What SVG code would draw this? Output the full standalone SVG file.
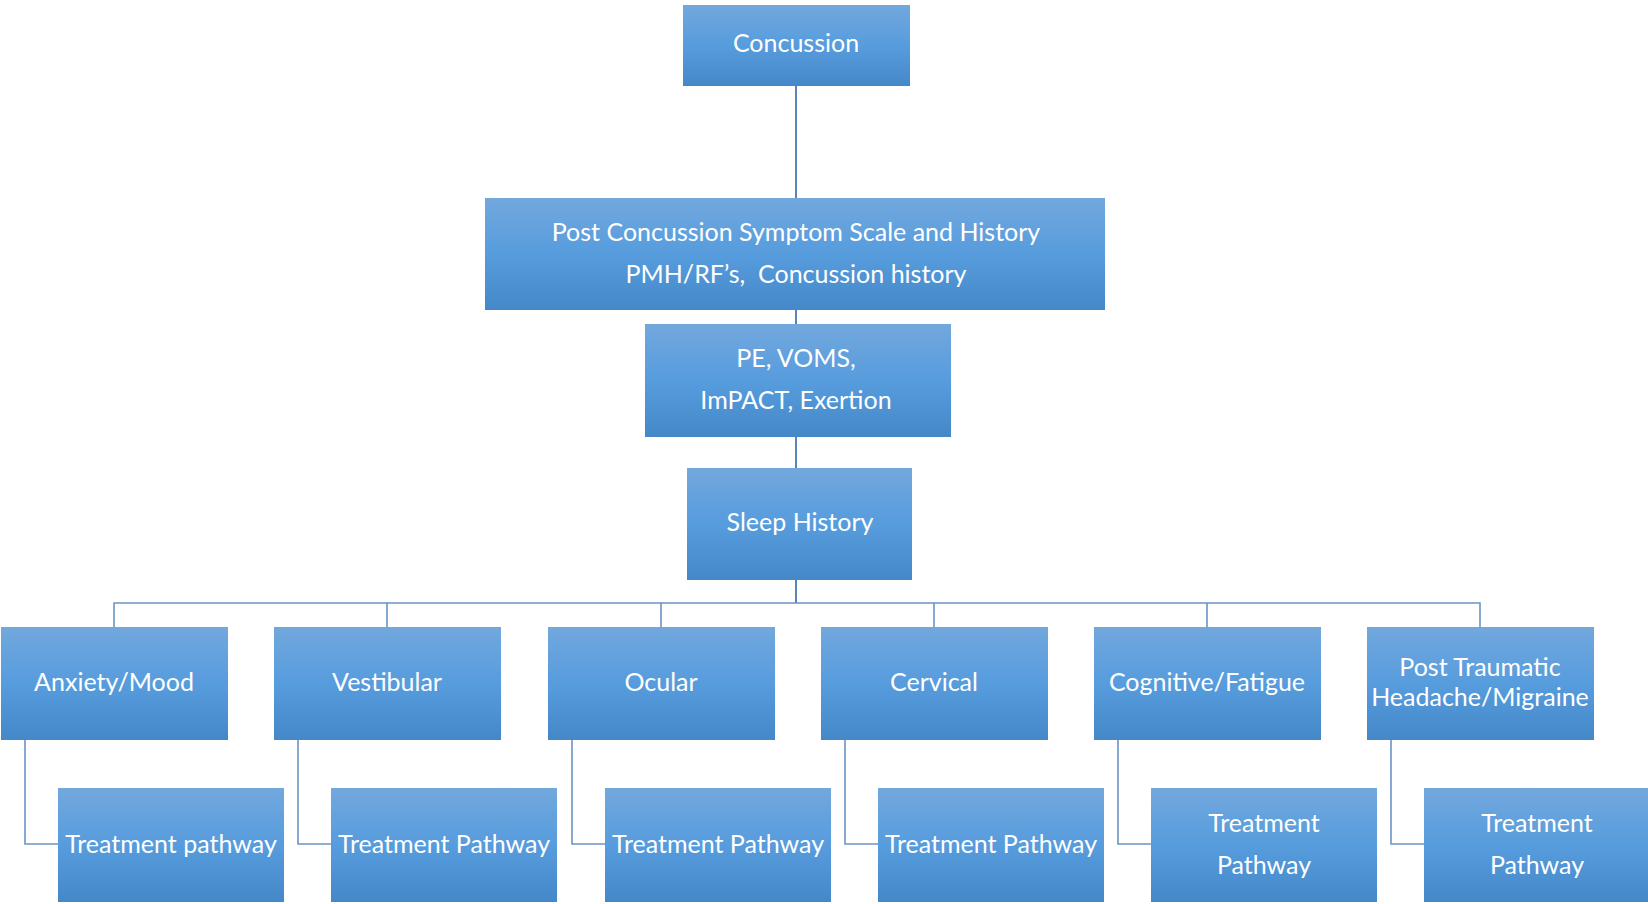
<svg xmlns="http://www.w3.org/2000/svg" width="1648" height="904" viewBox="0 0 1648 904">
<defs>
<linearGradient id="g" x1="0" y1="0" x2="0" y2="1">
<stop offset="0" stop-color="#72a8dd"/>
<stop offset="0.5" stop-color="#579cdd"/>
<stop offset="1" stop-color="#4488c8"/>
</linearGradient>
<style>
.box{fill:url(#g);}
.t{font-family:Lato,"Open Sans","Liberation Sans",sans-serif;font-size:25px;fill:#ffffff;text-anchor:middle;}
.c{fill:none;stroke:#5785b9;stroke-width:2;}
.c2{fill:none;stroke:#6b95c4;stroke-width:1.6;}
</style>
</defs>
<rect width="1648" height="904" fill="#ffffff"/>
<g id="connectors">
<path class="c" d="M796 85V198M796 310V324M796 437V468M796 580V603"/>
<path class="c2" d="M114 627V603H1480V627M387 603V627M661 603V627M934 603V627M1207 603V627"/>
<path class="c2" d="M25 740V844H58M298 740V844H331M572 740V844H605M845 740V844H878M1118 740V844H1151M1391 740V844H1424"/>
</g>
<g id="n-concussion"><rect class="box" x="683" y="5" width="227" height="81"/><text class="t" x="796" y="52">Concussion</text></g>
<g id="n-pcss"><rect class="box" x="485" y="198" width="620" height="112"/><text class="t" x="796" y="241">Post Concussion Symptom Scale and History</text><text class="t" x="796" y="283">PMH/RF’s,&#160; Concussion history</text></g>
<g id="n-pe"><rect class="box" x="645" y="324" width="306" height="113"/><text class="t" x="796" y="367">PE, VOMS,</text><text class="t" x="796" y="409">ImPACT, Exertion</text></g>
<g id="n-sleep"><rect class="box" x="687" y="468" width="225" height="112"/><text class="t" x="800" y="531">Sleep History</text></g>
<g id="n-anxiety"><rect class="box" x="1" y="627" width="227" height="113"/><text class="t" x="114" y="691">Anxiety/Mood</text></g>
<g id="n-vestibular"><rect class="box" x="274" y="627" width="227" height="113"/><text class="t" x="387" y="691">Vestibular</text></g>
<g id="n-ocular"><rect class="box" x="548" y="627" width="227" height="113"/><text class="t" x="661" y="691">Ocular</text></g>
<g id="n-cervical"><rect class="box" x="821" y="627" width="227" height="113"/><text class="t" x="934" y="691">Cervical</text></g>
<g id="n-cognitive"><rect class="box" x="1094" y="627" width="227" height="113"/><text class="t" x="1207" y="691">Cognitive/Fatigue</text></g>
<g id="n-headache"><rect class="box" x="1367" y="627" width="227" height="113"/><text class="t" x="1480" y="676">Post Traumatic</text><text class="t" x="1480" y="706">Headache/Migraine</text></g>
<g id="n-tp1"><rect class="box" x="58" y="788" width="226" height="114"/><text class="t" x="171" y="853">Treatment pathway</text></g>
<g id="n-tp2"><rect class="box" x="331" y="788" width="226" height="114"/><text class="t" x="444" y="853">Treatment Pathway</text></g>
<g id="n-tp3"><rect class="box" x="605" y="788" width="226" height="114"/><text class="t" x="718" y="853">Treatment Pathway</text></g>
<g id="n-tp4"><rect class="box" x="878" y="788" width="226" height="114"/><text class="t" x="991" y="853">Treatment Pathway</text></g>
<g id="n-tp5"><rect class="box" x="1151" y="788" width="226" height="114"/><text class="t" x="1264" y="832">Treatment</text><text class="t" x="1264" y="874">Pathway</text></g>
<g id="n-tp6"><rect class="box" x="1424" y="788" width="226" height="114"/><text class="t" x="1537" y="832">Treatment</text><text class="t" x="1537" y="874">Pathway</text></g>
</svg>
